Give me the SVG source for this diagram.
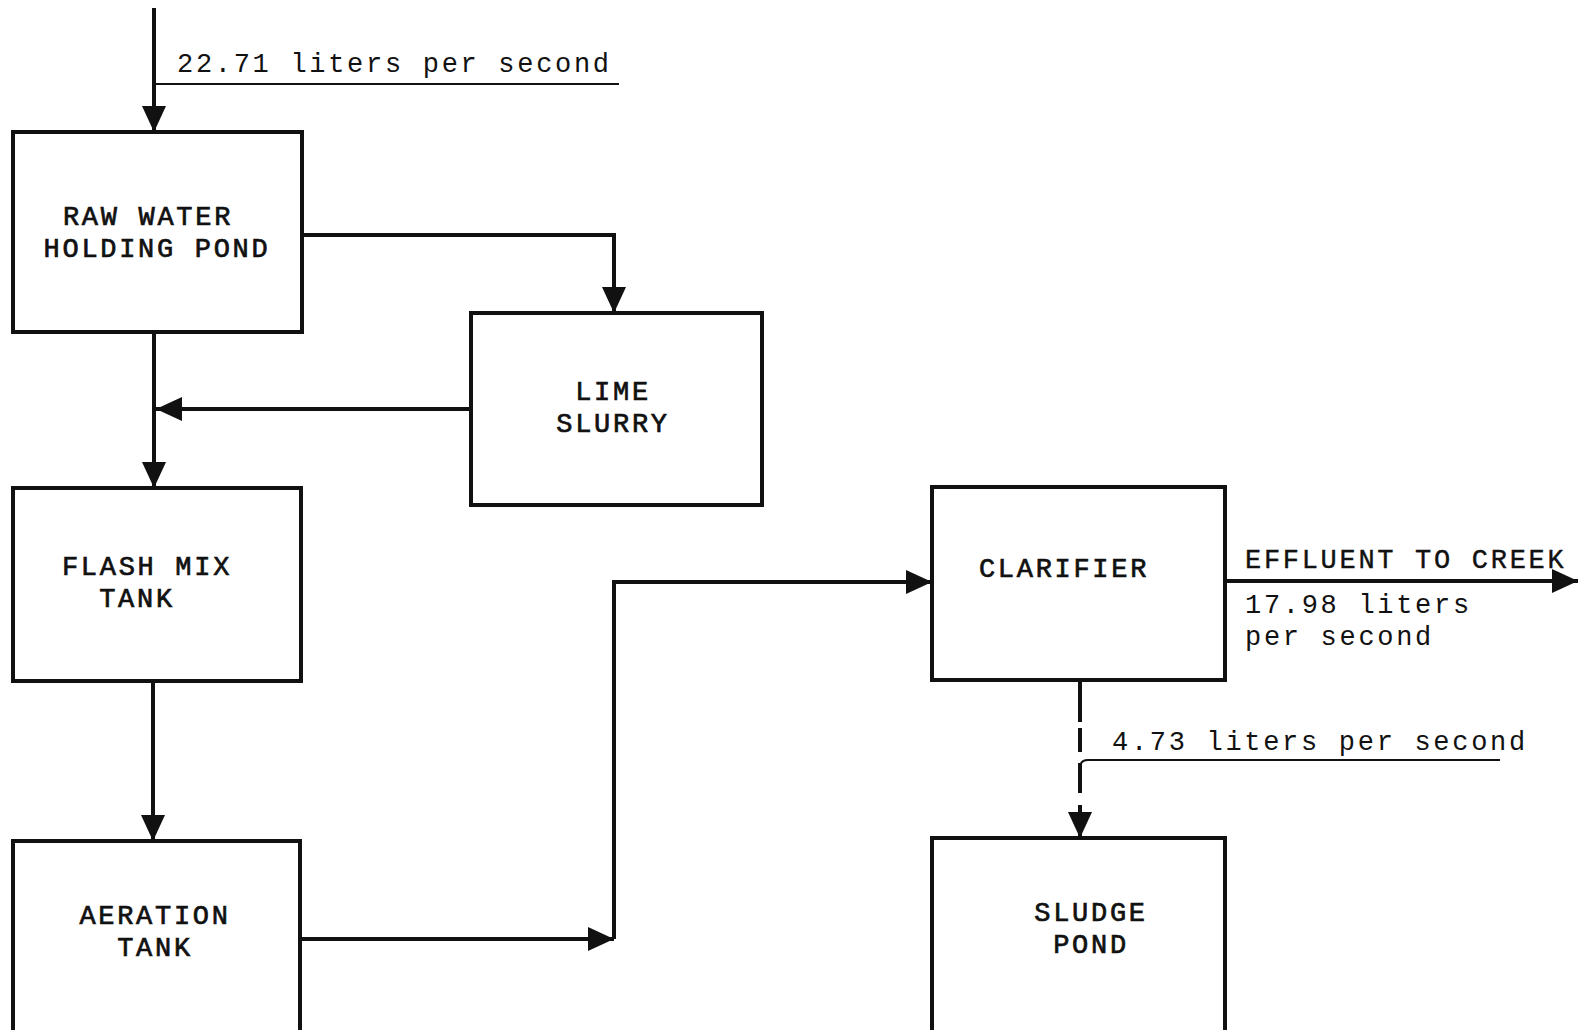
<svg xmlns="http://www.w3.org/2000/svg" width="1578" height="1030" viewBox="0 0 1578 1030">
<style>
.box{fill:none;stroke:#111;stroke-width:4}
.ln{fill:none;stroke:#111;stroke-width:4}
.thin{fill:none;stroke:#111;stroke-width:2}
text{font-family:"Liberation Mono","Courier New",monospace;font-size:27px;letter-spacing:2.7px;fill:#111}
.lbl{text-anchor:middle;stroke:#111;stroke-width:0.7}
</style>
<defs>
<marker id="ah" markerUnits="userSpaceOnUse" markerWidth="26" markerHeight="26" viewBox="0 0 26 26" refX="26" refY="13" orient="auto">
<path d="M0,1 L26,13 L0,25 z" fill="#111"/>
</marker>
</defs>
<rect width="1578" height="1030" fill="#fff"/>

<g id="raw-water-holding-pond">
<rect class="box" x="13" y="132" width="289" height="200"/>
<text class="lbl" x="148" y="225">RAW WATER</text>
<text class="lbl" x="157" y="257">HOLDING POND</text>
</g>

<g id="lime-slurry">
<rect class="box" x="471" y="313" width="291" height="192"/>
<text class="lbl" x="613" y="400">LIME</text>
<text class="lbl" x="613" y="432">SLURRY</text>
</g>

<g id="flash-mix-tank">
<rect class="box" x="13" y="488" width="288" height="193"/>
<text class="lbl" x="147" y="575">FLASH MIX</text>
<text class="lbl" x="137" y="607">TANK</text>
</g>

<g id="aeration-tank">
<rect class="box" x="13" y="841" width="287" height="200"/>
<text class="lbl" x="155" y="924">AERATION</text>
<text class="lbl" x="155" y="956">TANK</text>
</g>

<g id="clarifier">
<rect class="box" x="932" y="487" width="293" height="193"/>
<text class="lbl" x="1064" y="577">CLARIFIER</text>
</g>

<g id="sludge-pond">
<rect class="box" x="932" y="838" width="293" height="200"/>
<text class="lbl" x="1091" y="921">SLUDGE</text>
<text class="lbl" x="1091" y="953">POND</text>
</g>

<g id="connectors">
<line class="ln" x1="154" y1="8" x2="154" y2="132" marker-end="url(#ah)"/>
<line class="thin" x1="156" y1="84" x2="619" y2="84"/>
<polyline class="ln" points="302,235 614,235 614,313" marker-end="url(#ah)"/>
<line class="ln" x1="154" y1="332" x2="154" y2="488" marker-end="url(#ah)"/>
<line class="ln" x1="471" y1="409" x2="156" y2="409" marker-end="url(#ah)"/>
<line class="ln" x1="153" y1="681" x2="153" y2="841" marker-end="url(#ah)"/>
<line class="ln" x1="300" y1="939" x2="614" y2="939" marker-end="url(#ah)"/>
<polyline class="ln" points="614,939 614,582 932,582" marker-end="url(#ah)"/>
<line class="ln" x1="1225" y1="581" x2="1578" y2="581" marker-end="url(#ah)"/>
<line class="ln" x1="1080" y1="680" x2="1080" y2="722"/>
<line class="ln" x1="1080" y1="728" x2="1080" y2="752"/>
<line class="ln" x1="1080" y1="763" x2="1080" y2="793"/>
<line class="ln" x1="1080" y1="805" x2="1080" y2="838" marker-end="url(#ah)"/>
<path class="thin" d="M1080,768 Q1080,760 1088,760 L1500,760"/>
</g>

<g id="labels">
<text x="177" y="72">22.71 liters per second</text>
<text x="1245" y="568" style="stroke:#111;stroke-width:0.4">EFFLUENT TO CREEK</text>
<text x="1245" y="613">17.98 liters</text>
<text x="1245" y="645">per second</text>
<text x="1112" y="750">4.73 liters per second</text>
</g>
</svg>
